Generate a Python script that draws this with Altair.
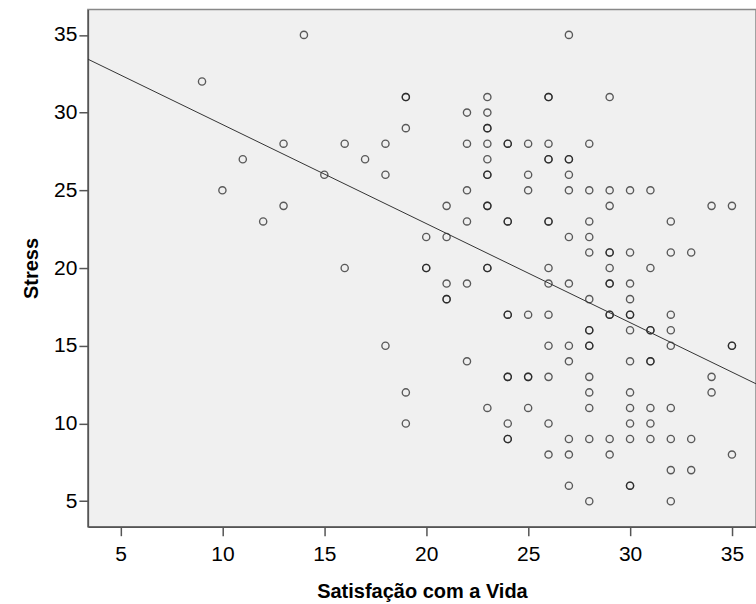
import altair as alt
import pandas as pd

# Satisfação com a Vida (x) and Stress (y), one entry per respondent
satisfacao = [
    14, 9, 13, 11, 10, 13, 12,
    19, 19, 23, 22, 23, 19, 23, 23, 16, 18, 22, 23, 24, 17, 23, 15, 18, 23, 23,
    22, 21, 23, 23, 22, 24, 20, 21, 16, 20, 20, 23, 23, 21, 22,
    27, 26, 26, 29, 24, 25, 26, 28, 26, 26, 27, 27, 25, 27, 25, 27, 28, 29, 30, 31,
    29, 34, 35, 24, 26, 26, 28, 32, 27, 28, 28, 29, 29, 30, 32, 33, 26, 29, 31,
    26, 27, 29, 29, 30,
    21, 21, 24, 18, 22, 24, 24, 19, 23, 19, 24, 24, 24,
    28, 30, 24, 25, 26, 29, 29, 30, 30, 32, 28, 28, 30, 31, 31, 32,
    26, 27, 28, 28, 32, 35, 35, 27, 30, 31, 31, 25, 25, 26, 28, 34,
    28, 30, 34, 25, 28, 30, 31, 32, 26, 30, 31,
    27, 28, 29, 30, 31, 32, 33, 26, 27, 29, 35, 32, 33, 27, 30, 30, 28, 32,
]
stress = [
    35, 32, 28, 27, 25, 24, 23,
    31, 31, 31, 30, 30, 29, 29, 29, 28, 28, 28, 28, 28, 27, 27, 26, 26, 26, 26,
    25, 24, 24, 24, 23, 23, 22, 22, 20, 20, 20, 20, 20, 19, 19,
    35, 31, 31, 31, 28, 28, 28, 28, 27, 27, 27, 27, 26, 26, 25, 25, 25, 25, 25, 25,
    24, 24, 24, 23, 23, 23, 23, 23, 22, 22, 21, 21, 21, 21, 21, 21, 20, 20, 20,
    19, 19, 19, 19, 19,
    18, 18, 17, 15, 14, 13, 13, 12, 11, 10, 10, 9, 9,
    18, 18, 17, 17, 17, 17, 17, 17, 17, 17, 16, 16, 16, 16, 16, 16,
    15, 15, 15, 15, 15, 15, 15, 14, 14, 14, 14, 13, 13, 13, 13, 13,
    12, 12, 12, 11, 11, 11, 11, 11, 10, 10, 10,
    9, 9, 9, 9, 9, 9, 9, 8, 8, 8, 8, 7, 7, 6, 6, 6, 5, 5,
]

x_ticks = [5, 10, 15, 20, 25, 30, 35]
y_ticks = [5, 10, 15, 20, 25, 30, 35]

df = pd.DataFrame({"Satisfação com a Vida": satisfacao, "Stress": stress})

FONT = "Liberation Sans"
XDOM = [3.4, 36.18]
YDOM = [3.36, 36.64]

x_enc = alt.X(
    "Satisfação com a Vida:Q",
    scale=alt.Scale(domain=XDOM, nice=False, zero=False),
    axis=alt.Axis(
        values=x_ticks, grid=False, title="Satisfação com a Vida",
        labelFontSize=21, titleFontSize=20, titleFontWeight="bold",
        labelFont=FONT, titleFont=FONT, labelColor="#000", titleColor="#000",
        tickColor="#555", domainColor="#555", tickSize=9, domainWidth=1.5,
        tickWidth=1.5, labelPadding=8, titlePadding=17,
    ),
)
y_enc = alt.Y(
    "Stress:Q",
    scale=alt.Scale(domain=YDOM, nice=False, zero=False),
    axis=alt.Axis(
        values=y_ticks, grid=False, title="Stress",
        labelFontSize=21, titleFontSize=20, titleFontWeight="bold",
        labelFont=FONT, titleFont=FONT, labelColor="#000", titleColor="#000",
        tickColor="#555", domainColor="#555", tickSize=9, domainWidth=1.5,
        tickWidth=1.5, labelPadding=2, titlePadding=12,
    ),
)

points = alt.Chart(df).mark_point(
    shape="circle", filled=False, size=52, stroke="#1a1a1a", strokeWidth=1.35,
    opacity=0.7,
).encode(x=x_enc, y=y_enc)

line = alt.Chart(df).transform_regression(
    "Satisfação com a Vida", "Stress", extent=XDOM
).mark_line(color="#333", strokeWidth=1, clip=True).encode(
    x=alt.X("Satisfação com a Vida:Q", scale=alt.Scale(domain=XDOM, nice=False, zero=False)),
    y=alt.Y("Stress:Q", scale=alt.Scale(domain=YDOM, nice=False, zero=False)),
)

chart = (
    alt.layer(points, line)
    .properties(
        width=669, height=518,
        autosize=alt.AutoSizeParams(type="none"),
        padding={"left": 88, "top": 9, "right": 0, "bottom": 77},
        background="white",
    )
    .configure_view(fill="#f0f0f0", stroke="#888", strokeWidth=1.5)
)

chart.save("out.html", embed_options={"renderer": "svg", "actions": False})
